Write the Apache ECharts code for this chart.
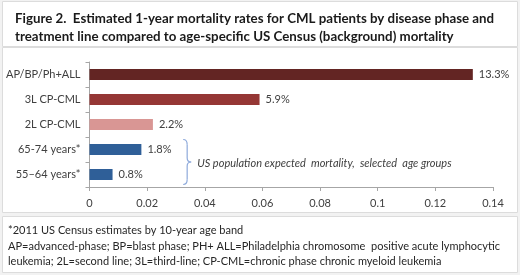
<!DOCTYPE html>
<html>
<head>
<meta charset="utf-8">
<script src="https://cdn.jsdelivr.net/npm/echarts@6/dist/echarts.min.js"></script>
<style>
  html, body { margin: 0; padding: 0; background: #f2f2f2; }
  #chart { width: 520px; height: 275px; }
</style>
</head>
<body>
<div id="chart"></div>
<script>
// 数据
const categories = ['AP/BP/Ph+ALL', '3L CP-CML', '2L CP-CML', '65-74 years*', '55–64 years*'];
const rates = [0.133, 0.059, 0.022, 0.018, 0.008];
const xTicks = [0, 0.02, 0.04, 0.06, 0.08, 0.1, 0.12, 0.14];
const barColors = ['#632523', '#953735', '#d99694', '#2f5f98', '#2f5f98'];

const FONT = 'Lato, "Open Sans", sans-serif';
const TEXT = '#404040';

const myChart = echarts.init(document.getElementById('chart'), null, { renderer: 'canvas' });

const option = {
  backgroundColor: '#f2f2f2',
  animation: false,
  title: {
    text: 'Figure 2.  Estimated 1-year mortality rates for CML patients by disease phase and\ntreatment line compared to age-specific US Census (background) mortality',
    left: 10,
    top: 5,
    textStyle: { color: '#1a1a1a', fontSize: 13.3, fontWeight: 'bold', fontFamily: FONT, lineHeight: 18 }
  },
  grid: { left: 89.5, right: 27, top: 62, bottom: 88, containLabel: false },
  xAxis: {
    type: 'value',
    min: 0,
    max: 0.14,
    interval: 0.02,
    axisLine: { show: true, lineStyle: { color: '#a6a6a6' } },
    axisTick: { show: true, length: 4, lineStyle: { color: '#a6a6a6' } },
    splitLine: { show: false },
    axisLabel: {
      color: TEXT, fontSize: 11, fontFamily: FONT, margin: 11,
      formatter: v => {
        const t = xTicks.find(x => Math.abs(x - v) < 1e-9);
        return t === undefined ? '' : String(t);
      }
    }
  },
  yAxis: {
    type: 'category',
    inverse: true,
    data: categories,
    axisLine: { show: true, lineStyle: { color: '#a6a6a6' } },
    axisTick: { show: true, length: 4, lineStyle: { color: '#a6a6a6' } },
    axisLabel: { color: TEXT, fontSize: 11, fontFamily: FONT, margin: 9 }
  },
  series: [{
    type: 'bar',
    barWidth: 11,
    data: rates.map((v, i) => ({ value: v, itemStyle: { color: barColors[i] } })),
    label: {
      show: true,
      position: 'right',
      distance: 6,
      color: TEXT,
      fontSize: 11,
      fontFamily: FONT,
      formatter: p => (p.value * 100).toFixed(1) + '%'
    }
  }]
};

myChart.setOption(option);

// 背景框、注释括号与脚注
const drawExtras = () => {
  const top = myChart.convertToPixel({ yAxisIndex: 0 }, categories[3]) - 10;
  const bot = myChart.convertToPixel({ yAxisIndex: 0 }, categories[4]) + 10;
  const bx = myChart.convertToPixel({ xAxisIndex: 0 }, 0.0325);
  const mid = (top + bot) / 2;
  const w = 4;
  const braceStyle = { fill: null, stroke: '#8eaadb', lineWidth: 1.2 };
  const curve = (x1, y1, cx, cy, x2, y2) => ({
    type: 'bezierCurve', silent: true,
    shape: { x1, y1, cpx1: cx, cpy1: cy, x2, y2 }, style: braceStyle
  });
  const seg = (x1, y1, x2, y2) => ({
    type: 'line', silent: true, shape: { x1, y1, x2, y2 }, style: braceStyle
  });

  myChart.setOption({
    graphic: [
      { type: 'rect', z: -10, silent: true, shape: { x: 2.5, y: 1.5, width: 515, height: 45 }, style: { fill: '#fff', stroke: '#dcdcdc' } },
      { type: 'rect', z: -10, silent: true, shape: { x: 2.5, y: 47.5, width: 515, height: 165 }, style: { fill: '#fff', stroke: '#dcdcdc' } },
      { type: 'rect', z: -10, silent: true, shape: { x: 2.5, y: 216.5, width: 515, height: 56 }, style: { fill: '#fff', stroke: '#dcdcdc' } },
      curve(bx, top, bx + w, top, bx + w, top + 5),
      seg(bx + w, top + 5, bx + w, mid - 4),
      curve(bx + w, mid - 4, bx + w, mid, bx + w + 4, mid),
      curve(bx + w + 4, mid, bx + w, mid, bx + w, mid + 4),
      seg(bx + w, mid + 4, bx + w, bot - 5),
      curve(bx + w, bot - 5, bx + w, bot, bx, bot),
      {
        type: 'text', silent: true, x: bx + w + 10, y: mid + 1,
        style: { text: 'US population expected  mortality,  selected  age groups', fill: TEXT, fontSize: 11, fontStyle: 'italic', fontFamily: FONT, verticalAlign: 'middle' }
      },
      {
        type: 'text', silent: true, x: 8, y: 223,
        style: {
          text: '*2011 US Census estimates by 10-year age band\nAP=advanced-phase; BP=blast phase; PH+ ALL=Philadelphia chromosome  positive acute lymphocytic\nleukemia; 2L=second line; 3L=third-line; CP-CML=chronic phase chronic myeloid leukemia',
          fill: '#262626', fontSize: 11, fontFamily: FONT, lineHeight: 15.5
        }
      }
    ]
  });
};

drawExtras();
</script>
</body>
</html>
